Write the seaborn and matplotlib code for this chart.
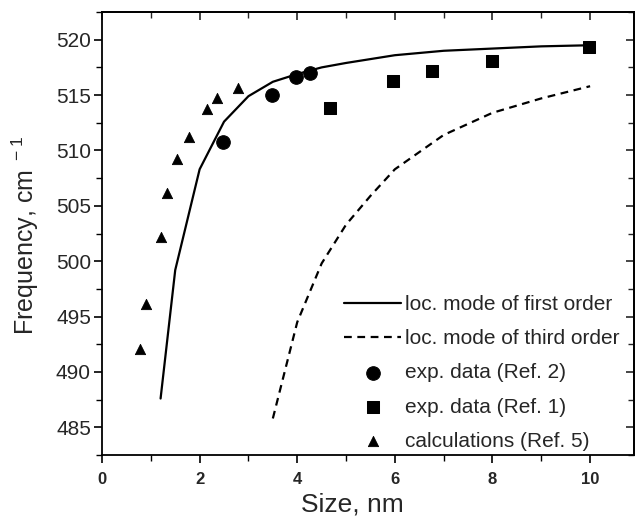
import numpy as np
import pandas as pd
import seaborn as sns
import matplotlib.pyplot as plt
from matplotlib.ticker import MultipleLocator

# loc. mode of first order (solid)
first_x = [1.2, 1.5, 2.0, 2.5, 3.0, 3.5, 4.0, 4.5, 5.0, 6.0, 7.0, 8.0, 9.0, 10.0]
first_y = [487.6, 499.2, 508.3, 512.6, 514.9, 516.2, 516.9, 517.5, 517.9, 518.6, 519.0, 519.2, 519.4, 519.5]

# loc. mode of third order (dashed)
third_x = [3.5, 4.0, 4.5, 5.0, 5.5, 6.0, 7.0, 8.0, 9.0, 10.0]
third_y = [485.8, 494.5, 499.8, 503.3, 505.9, 508.3, 511.4, 513.4, 514.7, 515.8]

# exp. data (Ref. 2)
ref2_x = [2.48, 3.49, 3.98, 4.27]
ref2_y = [510.8, 515.0, 516.6, 517.0]

# exp. data (Ref. 1)
ref1_x = [4.68, 5.97, 6.77, 7.98, 9.97]
ref1_y = [513.8, 516.3, 517.2, 518.1, 519.3]

# calculations (Ref. 5)
calc_x = [0.77, 0.90, 1.21, 1.33, 1.53, 1.78, 2.16, 2.35, 2.79]
calc_y = [492.1, 496.1, 502.2, 506.2, 509.2, 511.2, 513.7, 514.7, 515.6]

sns.set_theme(style="ticks")
plt.rcParams["font.family"] = ["Liberation Sans", "DejaVu Sans"]
plt.rcParams["mathtext.fontset"] = "custom"
plt.rcParams["mathtext.rm"] = "Liberation Sans"
plt.rcParams["axes.edgecolor"] = "black"
plt.rcParams["axes.linewidth"] = 1.3

fig = plt.figure(figsize=(6.36, 5.27), dpi=100)
ax = fig.add_axes([0.1604, 0.1366, 0.8365, 0.8406])

sns.lineplot(x=first_x, y=first_y, ax=ax, color="black", lw=1.6,
             label="loc. mode of first order")
sns.lineplot(x=third_x, y=third_y, ax=ax, color="black", lw=1.6,
             linestyle=(0, (3.5, 2.5)), label="loc. mode of third order")
sns.scatterplot(x=ref2_x, y=ref2_y, ax=ax, color="black", marker="o", s=95,
                edgecolor="black", label="exp. data (Ref. 2)")
sns.scatterplot(x=ref1_x, y=ref1_y, ax=ax, color="black", marker="s", s=85,
                edgecolor="black", label="exp. data (Ref. 1)")
sns.scatterplot(x=calc_x, y=calc_y, ax=ax, color="black", marker="^", s=55,
                edgecolor="black", label="calculations (Ref. 5)")

ax.set_xlim(0, 10.9)
ax.set_ylim(482.5, 522.5)
ax.xaxis.set_major_locator(MultipleLocator(2))
ax.xaxis.set_minor_locator(MultipleLocator(1))
ax.yaxis.set_major_locator(MultipleLocator(5))
ax.yaxis.set_minor_locator(MultipleLocator(2.5))

ax.tick_params(axis="both", which="major", direction="out", length=6, width=1.2,
               color="black")
ax.tick_params(axis="both", which="minor", direction="out", length=4, width=1.0,
               color="black")
ax.tick_params(axis="x", labelsize=12, pad=6)
ax.tick_params(axis="y", labelsize=15, pad=2)
for lab in ax.get_xticklabels():
    lab.set_fontweight("bold")

# mirrored ticks on top and right, pointing inward
top = ax.secondary_xaxis("top")
top.xaxis.set_major_locator(MultipleLocator(2))
top.xaxis.set_minor_locator(MultipleLocator(1))
top.tick_params(which="major", direction="in", length=6, width=1.2, labeltop=False)
top.tick_params(which="minor", direction="in", length=4, width=1.0)
right = ax.secondary_yaxis("right")
right.yaxis.set_major_locator(MultipleLocator(5))
right.yaxis.set_minor_locator(MultipleLocator(2.5))
right.tick_params(which="major", direction="in", length=6, width=1.2, labelright=False)
right.tick_params(which="minor", direction="in", length=4, width=1.0)

ax.set_xlabel("Size, nm", fontsize=19, labelpad=9)
ax.xaxis.set_label_coords(0.47, -0.085)
ax.set_ylabel("Frequency, cm$^{\\ -1}$", fontsize=18, labelpad=9)
ax.yaxis.set_label_coords(-0.114, 0.495)

leg = ax.legend(loc="lower left", bbox_to_anchor=(0.447, 0.0), frameon=False,
                fontsize=15, handlelength=2.75, handletextpad=0.2,
                labelspacing=0.73, borderpad=0.0, borderaxespad=0.2)

fig.savefig("out.png", dpi=100)
